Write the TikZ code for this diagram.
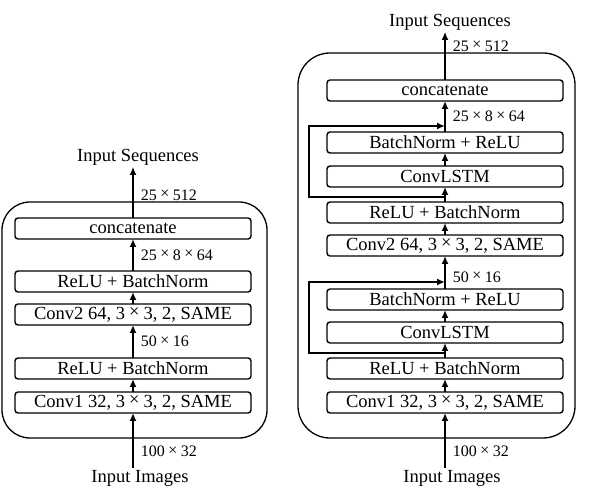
\documentclass[tikz,border=0pt]{standalone}
\usepackage{fontspec}
\setmainfont{Liberation Serif}
\usetikzlibrary{arrows.meta,positioning,calc}
\newcommand{\tms}{\makebox[1em]{\raisebox{0.1em}{×}}}

\begin{document}
\begin{tikzpicture}[->,>={Latex[length=8pt,width=7pt]},x=1pt,y=1pt,line width=1.6pt,
                    font=\fontsize{18.5}{20}\selectfont]
  \tikzstyle{layer}=[draw,rounded corners=3pt,minimum width=236pt,minimum height=21pt,inner sep=0pt,outer sep=0pt,line width=1.4pt]
  \tikzstyle{dim}=[anchor=west,inner sep=1pt,xshift=6pt,font=\fontsize{16}{18}\selectfont]
  \tikzstyle{io}=[inner sep=1pt]
  \tikzstyle{frame}=[-,line width=1.3pt]

  \useasboundingbox (0,0) rectangle (599,500);

  % left: CNN only
  \node[layer]  (c1L)  at (133,97.5)        {Conv1 32, 3\tms3, 2, SAME};
  \node[layer]  (r1L)  [above=13pt of c1L]  {ReLU + BatchNorm};
  \node[layer]  (c2L)  [above=33pt of r1L]  {Conv2 64, 3\tms3, 2, SAME};
  \node[layer]  (r2L)  [above=12pt of c2L]  {ReLU + BatchNorm};
  \node[layer]  (catL) [above=32pt of r2L]  {concatenate};
  \node[io]     (imgL) at (140,22)          {Input Images};
  \node[io]     (seqL) at (138,343)         {Input Sequences};

  \path (imgL.north -| c1L) edge node[dim,pos=0.3] {100\tms32} (c1L);
  \path (c1L) edge (r1L);
  \path (r1L) edge node[dim] {50\tms16} (c2L);
  \path (c2L) edge (r2L);
  \path (r2L) edge node[dim] {25\tms8\tms64} (catL);
  \path (catL) edge node[dim,pos=0.45] {25\tms512} (catL |- seqL.south);

  \draw[frame,rounded corners=28pt] ($(c1L.south west)+(-13,-25)$) rectangle ($(catL.north east)+(16,16)$);

  % right: CNN + ConvLSTM
  \node[layer]  (c1R)    at (445,97.5)          {Conv1 32, 3\tms3, 2, SAME};
  \node[layer]  (r1R)    [above=13pt of c1R]    {ReLU + BatchNorm};
  \node[layer]  (lstm1R) [above=15pt of r1R]    {ConvLSTM};
  \node[layer]  (bn1R)   [above=12pt of lstm1R] {BatchNorm + ReLU};
  \node[layer]  (c2R)    [above=33pt of bn1R]   {Conv2 64, 3\tms3, 2, SAME};
  \node[layer]  (r2R)    [above=12pt of c2R]    {ReLU + BatchNorm};
  \node[layer]  (lstm2R) [above=15pt of r2R]    {ConvLSTM};
  \node[layer]  (bn2R)   [above=13pt of lstm2R] {BatchNorm + ReLU};
  \node[layer]  (catR)   [above=31pt of bn2R]   {concatenate};
  \node[io]     (imgR) at (452,22)              {Input Images};
  \node[io]     (seqR) at (450,478)             {Input Sequences};

  \path (imgR.north -| c1R) edge node[dim,pos=0.3] {100\tms32} (c1R);
  \path (c1R) edge (r1R);
  \path (r1R) edge (lstm1R);
  \path (lstm1R) edge (bn1R);
  \path (bn1R) edge node[dim,pos=0.36] {50\tms16} (c2R);
  \path (c2R) edge (r2R);
  \path (r2R) edge (lstm2R);
  \path (lstm2R) edge (bn2R);
  \path (bn2R) edge node[dim] {25\tms8\tms64} (catR);
  \path (catR) edge node[dim,pos=0.7] {25\tms512} (catR |- seqR.south);

  % skip loops
  \coordinate (fb1s) at ($(r1R.north)+(0,5)$);
  \coordinate (fb1e) at ($(bn1R.north)+(0,7)$);
  \draw (fb1s) -- ++(-136,0) |- (fb1e);
  \coordinate (fb2s) at ($(r2R.north)+(0,5)$);
  \coordinate (fb2e) at ($(bn2R.north)+(0,6)$);
  \draw (fb2s) -- ++(-136,0) |- (fb2e);

  \draw[frame,rounded corners=32pt] ($(c1R.south west)+(-29,-25)$) rectangle ($(catR.north east)+(12,27)$);
\end{tikzpicture}
\end{document}
